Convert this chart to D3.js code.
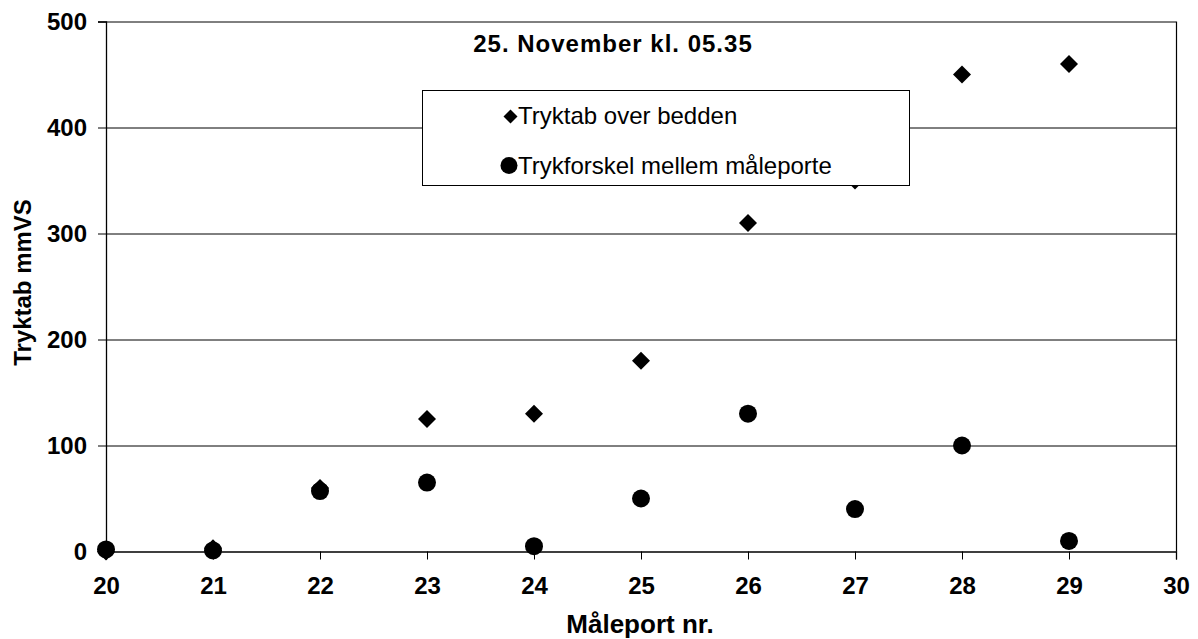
<!DOCTYPE html>
<html>
<head>
<meta charset="utf-8">
<script src="https://cdn.jsdelivr.net/npm/d3@7"></script>
<style>
  html, body { margin: 0; padding: 0; background: #fff; }
  svg { display: block; font-family: "Liberation Sans", Arial, sans-serif; }
</style>
</head>
<body>
<svg id="chart" width="1198" height="639"></svg>
<script>
// Measuring ports along the bed
const ports = [20, 21, 22, 23, 24, 25, 26, 27, 28, 29];
// Pressure loss over the bed (mmVS)
const tryktab = [0, 3, 60, 125, 130, 180, 310, 350, 450, 460];
// Pressure difference between measuring ports (mmVS)
const trykforskel = [2, 1, 57, 65, 5, 50, 130, 40, 100, 10];

const xTicks = [20, 21, 22, 23, 24, 25, 26, 27, 28, 29, 30];
const yTicks = [0, 100, 200, 300, 400, 500];

const seriesNames = ["Tryktab over bedden", "Trykforskel mellem måleporte"];
const chartTitle = "25. November kl. 05.35";
const xTitle = "Måleport nr.";
const yTitle = "Tryktab mmVS";

const svg = d3.select("#chart");
const margin = { left: 106, top: 21.5, right: 22, bottom: 87.5 };
const W = 1198, H = 639;
const pw = W - margin.left - margin.right;
const ph = H - margin.top - margin.bottom;

const x = d3.scaleLinear().domain([20, 30]).range([0, pw]);
const y = d3.scaleLinear().domain([0, 500]).range([ph, 0]);

const g = svg.append("g").attr("transform", `translate(${margin.left},${margin.top})`);

// Horizontal gridlines
g.append("g")
  .selectAll("line")
  .data(yTicks.filter(v => v > 0))
  .join("line")
  .attr("x1", 0).attr("x2", pw)
  .attr("y1", d => Math.round(y(d)) + 0.5).attr("y2", d => Math.round(y(d)) + 0.5)
  .attr("stroke", "#000").attr("stroke-width", 1);

// Right border of the plot area
g.append("line")
  .attr("x1", pw + 0.5).attr("x2", pw + 0.5)
  .attr("y1", 0).attr("y2", ph)
  .attr("stroke", "#000").attr("stroke-width", 1.2);

// Axes
const xAxis = g.append("g")
  .attr("transform", `translate(0,${ph})`)
  .call(d3.axisBottom(x).tickValues(xTicks).tickSize(8).tickPadding(17).tickFormat(d3.format("d")));
const yAxis = g.append("g")
  .call(d3.axisLeft(y).tickValues(yTicks).tickSize(8).tickPadding(11).tickFormat(d3.format("d")));

[xAxis, yAxis].forEach(a => {
  a.select(".domain").attr("stroke", "#000").attr("stroke-width", 1.3);
  a.selectAll(".tick line").attr("stroke", "#000").attr("stroke-width", 1);
  a.selectAll(".tick text")
    .attr("fill", "#000")
    .style("font-size", "24px")
    .style("font-weight", "bold")
    .style("font-family", "'Liberation Sans', Arial, sans-serif");
});
xAxis.selectAll(".tick text").attr("dy", "0.71em");

// Diamonds: pressure loss over the bed
const diamond = d3.symbol().type(d3.symbolSquare).size(162);
g.append("g")
  .selectAll("path")
  .data(ports.map((p, i) => [p, tryktab[i]]))
  .join("path")
  .attr("d", diamond)
  .attr("transform", d => `translate(${x(d[0])},${y(d[1])}) rotate(45)`)
  .attr("fill", "#000");

// Circles: pressure difference between ports
g.append("g")
  .selectAll("circle")
  .data(ports.map((p, i) => [p, trykforskel[i]]))
  .join("circle")
  .attr("cx", d => x(d[0]))
  .attr("cy", d => y(d[1]))
  .attr("r", 9)
  .attr("fill", "#000");

// Legend
const legend = svg.append("g");
legend.append("rect")
  .attr("x", 422.5).attr("y", 90.5)
  .attr("width", 487).attr("height", 95)
  .attr("fill", "#fff").attr("stroke", "#000").attr("stroke-width", 1);
legend.append("path")
  .attr("d", d3.symbol().type(d3.symbolSquare).size(98)())
  .attr("transform", "translate(510.5,116.5) rotate(45)")
  .attr("fill", "#000");
legend.append("circle")
  .attr("cx", 509).attr("cy", 165.5).attr("r", 8.5)
  .attr("fill", "#000");
legend.selectAll("text")
  .data(seriesNames)
  .join("text")
  .attr("x", 518)
  .attr("y", (d, i) => 123.5 + i * 50.5)
  .style("font-size", "24px")
  .attr("fill", "#000")
  .text(d => d);

// Title inside plot area
svg.append("text")
  .attr("x", 613).attr("y", 52)
  .attr("text-anchor", "middle")
  .style("font-size", "24px")
  .style("letter-spacing", "1px")
  .style("font-weight", "bold")
  .text(chartTitle);

// Axis titles
svg.append("text")
  .attr("x", margin.left + pw / 2 - 1).attr("y", 633)
  .attr("text-anchor", "middle")
  .style("font-size", "26px")
  .style("font-weight", "bold")
  .text(xTitle);

svg.append("text")
  .attr("transform", `translate(31,${margin.top + ph / 2 - 4}) rotate(-90)`)
  .attr("text-anchor", "middle")
  .style("font-size", "24px")
  .style("font-weight", "bold")
  .text(yTitle);
</script>
</body>
</html>
